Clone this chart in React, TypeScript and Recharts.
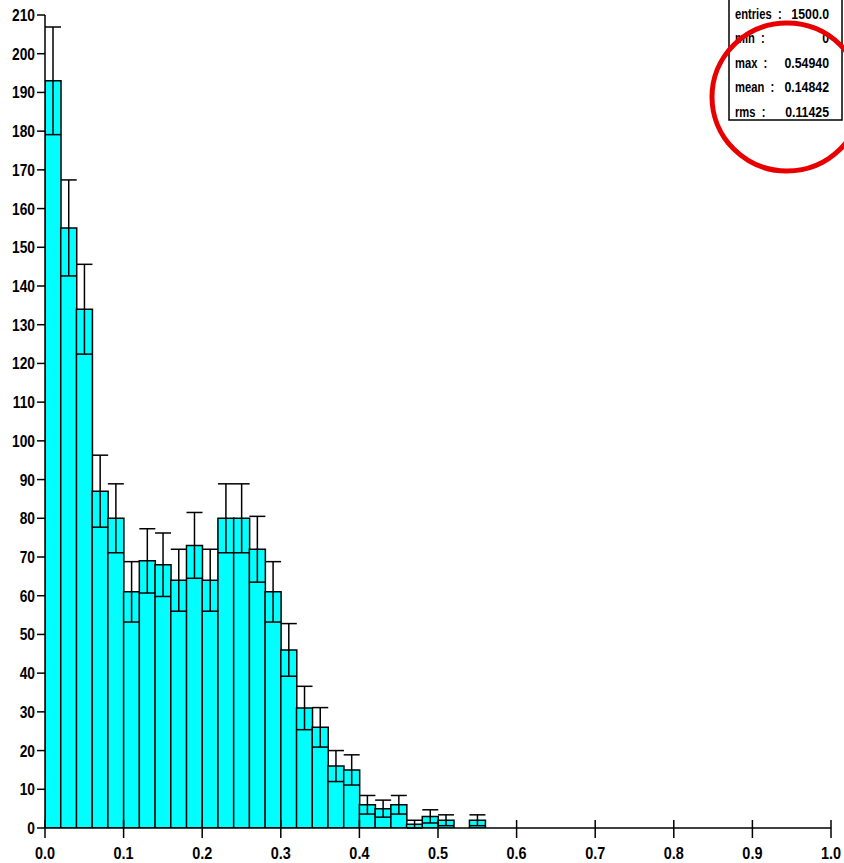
import React from 'react';
import { ComposedChart, Bar, XAxis, YAxis, ErrorBar } from 'recharts';

const binCenters = [
  0.01, 0.03, 0.05, 0.07, 0.09, 0.11, 0.13, 0.15, 0.17, 0.19,
  0.21, 0.23, 0.25, 0.27, 0.29, 0.31, 0.33, 0.35, 0.37, 0.39,
  0.41, 0.43, 0.45, 0.47, 0.49, 0.51, 0.53, 0.55,
];
const counts = [
  193, 155, 134, 87, 80, 61, 69, 68, 64, 73,
  64, 80, 80, 72, 61, 46, 31, 26, 16, 15,
  6, 5, 6, 1, 3, 2, 0, 2,
];
const errors = [
  13.9, 12.4, 11.6, 9.3, 8.9, 7.8, 8.3, 8.2, 8, 8.5,
  8, 8.9, 8.9, 8.5, 7.8, 6.8, 5.6, 5.1, 4, 3.9,
  2.4, 2.2, 2.4, 1, 1.7, 1.4, 0, 1.4,
];
const xTicks = [0, 0.1, 0.2, 0.3, 0.4, 0.5, 0.6, 0.7, 0.8, 0.9, 1.0];
const yTicks = [
  0, 10, 20, 30, 40, 50, 60, 70, 80, 90, 100,
  110, 120, 130, 140, 150, 160, 170, 180, 190, 200, 210,
];
const statLabels = ['entries', 'min', 'max', 'mean', 'rms'];
const statValues = ['1500.0', '0', '0.54940', '0.14842', '0.11425'];

const data = binCenters.map((x, i) => ({ x, count: counts[i], err: errors[i] }));

const FONT = '"Liberation Sans", Arial, sans-serif';

const XTick = (props: any) => {
  const { x, y, payload } = props;
  return (
    <g>
      <line x1={x} x2={x} y1={y - 8} y2={y + 10} stroke="#000" strokeWidth={1.5} />
      <text
        transform={`translate(${x},${y + 31}) scale(0.85,1)`}
        x={0}
        y={0}
        textAnchor="middle"
        fill="#000"
        fontSize={17}
        fontWeight="bold"
        fontFamily={FONT}
      >
        {Number(payload.value).toFixed(1)}
      </text>
    </g>
  );
};

const YTick = (props: any) => {
  const { x, y, payload } = props;
  return (
    <text
      transform={`translate(${x},${y + 6}) scale(0.81,1)`}
      x={0}
      y={0}
      textAnchor="end"
      fill="#000"
      fontSize={17}
      fontWeight="bold"
      fontFamily={FONT}
    >
      {payload.value}
    </text>
  );
};

export default function App() {
  return (
    <div style={{ position: 'absolute', left: 0, top: 0, width: 844, height: 863, background: '#fff' }}>
      <ComposedChart
        width={844}
        height={863}
        data={data}
        margin={{ top: 15, right: 13, bottom: 0, left: 0 }}
        barCategoryGap={0}
        barGap={0}
      >
        <XAxis
          dataKey="x"
          type="number"
          domain={[0, 1]}
          ticks={xTicks}
          interval={0}
          height={35}
          tickSize={0}
          tickMargin={0}
          tickLine={false}
          tick={<XTick />}
          axisLine={{ stroke: '#000', strokeWidth: 1.5 }}
          allowDataOverflow
        />
        <YAxis
          type="number"
          domain={[0, 210]}
          ticks={yTicks}
          interval={0}
          width={45}
          tickSize={8}
          tickMargin={2}
          axisLine={{ stroke: '#000', strokeWidth: 1.5 }}
          tickLine={{ stroke: '#000', strokeWidth: 1.5 }}
          tick={<YTick />}
          allowDataOverflow
        />
        <Bar
          dataKey="count"
          fill="#00FFFF"
          stroke="#000"
          strokeWidth={1.5}
          isAnimationActive={false}
        >
          <ErrorBar dataKey="err" width={8} stroke="#000" strokeWidth={1.5} direction="y" />
        </Bar>
      </ComposedChart>
      <svg
        width={844}
        height={863}
        style={{ position: 'absolute', left: 0, top: 0, pointerEvents: 'none' }}
      >
        <rect x={729} y={-2} width={113} height={122} fill="#fff" stroke="#000" strokeWidth={1.5} />
        {statLabels.map((lab, i) => (
          <g key={lab}>
            <text
              transform={`translate(735,${19 + i * 24.4}) scale(0.8,1)`}
              x={0}
              y={0}
              fill="#000"
              fontSize={14}
              fontWeight="bold"
              fontFamily={FONT}
              style={{ whiteSpace: 'pre' }}
            >
              {lab + '  :'}
            </text>
            <text
              transform={`translate(829,${19 + i * 24.4}) scale(0.88,1)`}
              x={0}
              y={0}
              textAnchor="end"
              fill="#000"
              fontSize={14}
              fontWeight="bold"
              fontFamily={FONT}
            >
              {statValues[i]}
            </text>
          </g>
        ))}
        <ellipse cx={787} cy={97} rx={75} ry={74} fill="none" stroke="#E80000" strokeWidth={5} />
      </svg>
    </div>
  );
}
